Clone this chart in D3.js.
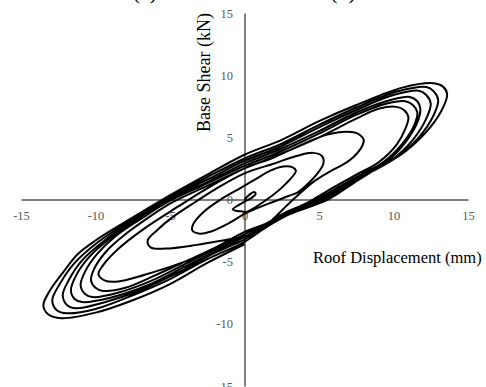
<!DOCTYPE html>
<html>
<head>
<meta charset="utf-8">
<script src="https://cdn.jsdelivr.net/npm/d3@7"></script>
<style>
  html, body { margin: 0; padding: 0; background: #fff; }
  svg { display: block; }
</style>
</head>
<body>
<svg id="chart" width="486" height="387"></svg>
<script>
// Axis ticks
const xTicks = [-15, -10, -5, 0, 5, 10, 15];
const yTicks = [-15, -10, -5, 0, 5, 10, 15];

// Cyclic test record: roof displacement (mm), base shear (kN), one array per cycle
const cycle0 = [[0,0],[0.3,0.35],[0.65,0.6],[0.75,0.45],[0.5,0.15],[0.1,-0.1],[-0.4,-0.45],[-0.8,-0.8],[-0.6,-0.9],[-0.2,-0.95]];
const cycle1 = [[0.1,-1.0],[1.5,0],[2.8,1.3],[3.45,2.3],[3.2,2.6],[2.6,2.65],[1.7,2.3],[0.7,1.6],[-0.3,0.9],[-1.6,0],[-2.75,-1.0],[-3.45,-2.0],[-3.5,-2.5],[-3.0,-2.75],[-2.3,-2.6],[-1.2,-2.0],[0.1,-1.1]];
const cycle2 = [[1.9,-0.2],[3.0,0.3],[3.6,0.6],[4.2,1.2],[4.9,2.1],[5.3,2.9],[5.2,3.5],[4.6,3.75],[3.5,3.5],[2.0,2.9],[0,2.1],[-2,0.8],[-3.3,-0.2],[-4.8,-1.4],[-5.85,-2.45],[-6.5,-3.3],[-6.3,-3.85],[-5.3,-3.95],[-3.2,-3.65],[-1.0,-3.2],[0,-3.0]];
const cycle3 = [[1.5,-2.0],[3.0,-0.3],[4.6,1.4],[5.8,2.3],[6.6,2.8],[7.3,3.4],[7.9,4.3],[8.0,4.8],[7.6,5.3],[6.9,5.45],[5.5,5.2],[4,4.5],[2,3.4],[0,2.5],[-2.5,0.9],[-4.5,-0.6],[-6.8,-2.4],[-8.5,-4.0],[-9.5,-5.3],[-9.8,-6.0],[-9.4,-6.5],[-8.5,-6.6],[-6,-5.8],[-4,-5.0],[-2,-4.0],[0,-3.0]];
const cycle4 = [[1.5,-2.0],[3,-1.0],[4.6,0],[6,1.0],[7.5,2.0],[9,3.0],[10.2,4.4],[10.8,5.7],[11.0,6.6],[10.7,7.2],[10.2,7.45],[9,7.3],[7.5,6.5],[5,5.0],[2.5,3.7],[0,2.5],[-2.5,1.1],[-4.8,-0.2],[-6.5,-1.5],[-8,-2.8],[-9.3,-4.2],[-10.1,-5.6],[-10.3,-6.5],[-10.0,-7.1],[-9.5,-7.35],[-8,-7.1],[-6,-6.1],[-4,-5.0],[-2,-3.9],[0,-2.6]];
const cycle5 = [[1.5,-1.9],[3,-0.9],[4.8,0],[6.3,1.0],[7.8,2.0],[9.3,3.0],[10.6,4.5],[11.4,6.0],[11.6,7.0],[11.3,7.6],[10.8,7.9],[9.5,7.7],[7.5,6.8],[5,5.3],[2.5,3.9],[0,2.7],[-2.5,1.3],[-5,-0.1],[-7,-1.6],[-8.7,-3.0],[-9.9,-4.4],[-10.7,-5.8],[-11.0,-6.9],[-10.7,-7.6],[-10.2,-7.85],[-8.5,-7.5],[-6,-6.4],[-4,-5.2],[-2,-4.0],[0,-2.8]];
const cycle6 = [[1.5,-1.9],[3,-0.9],[5,0],[6.5,1.0],[8,2.0],[9.5,3.0],[10.8,4.6],[11.6,6.2],[11.8,7.3],[11.6,7.9],[11.1,8.25],[9.8,8.0],[7.5,7.0],[5,5.5],[2.5,4.1],[0,2.9],[-2.5,1.4],[-5,0],[-7.2,-1.6],[-9.0,-3.1],[-10.4,-4.6],[-11.3,-6.1],[-11.65,-7.3],[-11.4,-8.0],[-10.9,-8.25],[-9,-7.9],[-6.5,-6.9],[-4,-5.4],[-2,-4.2],[0,-3.0]];
const cycle7 = [[1.5,-2.0],[3,-1.0],[5.2,0],[6.8,1.1],[8.3,2.1],[9.8,3.1],[11.3,4.8],[12.2,6.5],[12.5,7.7],[12.2,8.4],[11.7,8.75],[10,8.4],[7.5,7.2],[5,5.8],[2.5,4.3],[0,3.1],[-2.5,1.6],[-5.2,0],[-7.5,-1.7],[-9.4,-3.3],[-10.9,-4.9],[-11.8,-6.5],[-12.2,-7.7],[-11.9,-8.5],[-11.3,-8.75],[-9.5,-8.3],[-7,-7.3],[-4.5,-5.9],[-2,-4.3],[0,-3.2]];
const cycle8 = [[1.5,-2.1],[3,-1.1],[5.4,0],[7,1.2],[8.6,2.3],[10.1,3.3],[11.7,5.0],[12.7,6.8],[13.0,8.0],[12.7,8.7],[12.2,9.05],[10.3,8.7],[7.5,7.4],[5,6.0],[2.5,4.5],[0,3.3],[-2.5,1.8],[-5.3,0],[-7.8,-1.8],[-9.8,-3.4],[-11.4,-5.1],[-12.4,-6.8],[-12.9,-8.1],[-12.6,-8.9],[-11.9,-9.15],[-10,-8.8],[-7.5,-7.7],[-5,-6.4],[-2.5,-4.8],[0,-3.4]];
const cycle9 = [[1.5,-2.2],[3,-1.2],[5.6,0],[7.3,1.3],[8.9,2.5],[10.5,3.6],[12.1,5.3],[13.2,7.1],[13.6,8.5],[13.3,9.1],[12.7,9.35],[10.6,9.0],[7.5,7.6],[5,6.3],[2.5,4.8],[0,3.6],[-2.5,2.0],[-5.5,0],[-8,-1.8],[-10,-3.3],[-11.2,-4.4],[-12.2,-5.9],[-13.1,-7.4],[-13.5,-8.5],[-13.2,-9.2],[-12.3,-9.55],[-10,-9.1],[-7.5,-8.1],[-5,-6.8],[-2.5,-5.1],[0,-3.6]];

const cycles = [cycle0, cycle1, cycle2, cycle3, cycle4, cycle5, cycle6, cycle7, cycle8, cycle9];

const svg = d3.select("#chart");
const serif = "'Liberation Serif', 'Times New Roman', serif";

const x = d3.scaleLinear().domain([-15, 15]).range([21, 468]);
const y = d3.scaleLinear().domain([-15, 15]).range([386, 13]);

// Panel captions above the plot (only their lower edge falls inside the frame)
svg.append("text").attr("x", 145).attr("y", -1).attr("text-anchor", "middle")
  .attr("font-family", serif).attr("font-size", 22).attr("fill", "#000").text("(a)");
svg.append("text").attr("x", 343).attr("y", -1).attr("text-anchor", "middle")
  .attr("font-family", serif).attr("font-size", 22).attr("fill", "#000").text("(b)");

// Axes crossing at the origin
const fmt = d => String(d);
const xAxis = d3.axisBottom(x).tickValues(xTicks).tickSize(0).tickPadding(12).tickFormat(fmt);
const yAxis = d3.axisLeft(y).tickValues(yTicks).tickSize(0).tickPadding(11.5).tickFormat(fmt);

const gx = svg.append("g").attr("transform", `translate(0,${y(0)})`).call(xAxis);
const gy = svg.append("g").attr("transform", `translate(${x(0)},0)`).call(yAxis);

[gx, gy].forEach(g => {
  g.select(".domain").attr("stroke", "#000").attr("stroke-width", 1);
  g.selectAll("text").attr("font-family", serif).attr("font-size", 12.5).attr("fill", "#595959");
});
gx.selectAll("text").attr("dy", "0.71em");

// Hysteresis curve
const pts = cycles.flat();
const line = d3.line().x(d => x(d[0])).y(d => y(d[1])).curve(d3.curveCatmullRom.alpha(0.5));
svg.append("path").datum(pts).attr("d", line)
  .attr("fill", "none").attr("stroke", "#000").attr("stroke-width", 2)
  .attr("stroke-linejoin", "round");

// Axis titles
svg.append("text").attr("x", 313).attr("y", 263)
  .attr("font-family", serif).attr("font-size", 16.5).attr("fill", "#000")
  .text("Roof Displacement (mm)");
svg.append("text").attr("transform", "translate(210,132) rotate(-90)")
  .attr("font-family", serif).attr("font-size", 18).attr("fill", "#000")
  .text("Base Shear (kN)");
</script>
</body>
</html>
